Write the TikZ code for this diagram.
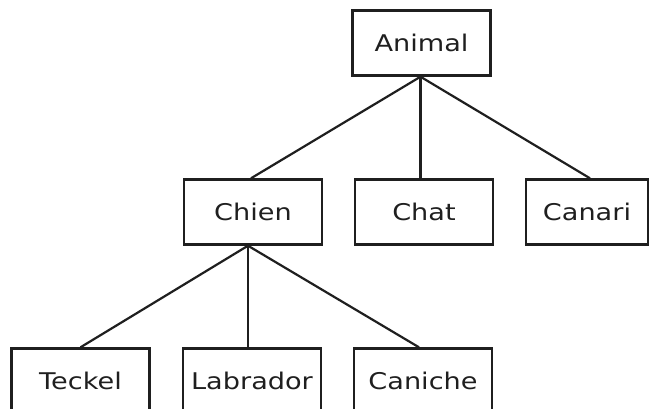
\documentclass[tikz,border=0pt]{standalone}
\usepackage{fontspec}
\setmainfont{DejaVu Sans}[FakeStretch=1.18]
\begin{document}
\begin{tikzpicture}[x=1pt,y=-1pt,
  box/.style={draw=black!88,line width=2.4pt,minimum width=138pt,minimum height=65pt,inner sep=0pt,font=\fontsize{23}{26}\selectfont,text=black!88},
  link/.style={draw=black!88,line width=2.2pt}]
\useasboundingbox (0,0) rectangle (655,408);
\node[box] (animal) at (421.5,43) {Animal};
\node[box] (chien) at (253,212) {Chien};
\node[box] (chat) at (424,212) {Chat};
\node[box,minimum width=122pt] (canari) at (587,212) {Canari};
\node[box] (teckel) at (80.5,381) {Teckel};
\node[box] (labrador) at (252,381) {Labrador};
\node[box] (caniche) at (423,381) {Caniche};
\coordinate (as) at ([xshift=-1pt]animal.south);
\coordinate (cs) at ([xshift=-5pt]chien.south);
\draw[link] (as) -- ([xshift=-2pt]chien.north);
\draw[link] (as) -- ([xshift=-3.5pt]chat.north);
\draw[link] (as) -- ([xshift=3pt]canari.north);
\draw[link] (cs) -- (teckel.north);
\draw[link] (cs) -- ([xshift=-4pt]labrador.north);
\draw[link] (cs) -- ([xshift=-4pt]caniche.north);
\end{tikzpicture}
\end{document}
